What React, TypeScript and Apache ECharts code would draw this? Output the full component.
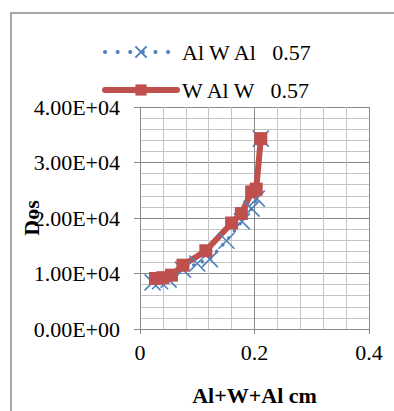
import React, { useEffect, useRef } from "react";
import * as echarts from "echarts";

const seriesNames = ["Al W Al   0.57", "W Al W   0.57"];
const alWAlX = [0.022, 0.035, 0.05, 0.075, 0.1, 0.122, 0.151, 0.178, 0.195, 0.204, 0.211];
const alWAlY = [8400, 8600, 8900, 10700, 11800, 12600, 15900, 19400, 21700, 23500, 34300];
const wAlWX = [0.027, 0.04, 0.055, 0.075, 0.115, 0.16, 0.177, 0.195, 0.203, 0.211];
const wAlWY = [9100, 9250, 9700, 11500, 14100, 19100, 20800, 24700, 25200, 34300];
const xTitle = "Al+W+Al cm";
const yTitle = "Dos";

const fmtSci = (v: number) => {
  if (v === 0) return "0.00E+00";
  const e = Math.floor(Math.log10(Math.abs(v)) + 1e-9);
  const m = v / Math.pow(10, e);
  return `${m.toFixed(2)}E${e >= 0 ? "+" : "-"}${String(Math.abs(e)).padStart(2, "0")}`;
};

export default function App() {
  const ref = useRef<HTMLDivElement>(null);
  useEffect(() => {
    if (!ref.current) return;
    const chart = echarts.init(ref.current, undefined, { renderer: "svg" });
    const font = "Liberation Serif";
    const blueDots = { color: "#4F81BD", width: 4, type: [0.1, 12.5], cap: "round" };
    const redThick = { color: "#C0504D", width: 6, cap: "round" };
    chart.setOption({
      animation: false,
      textStyle: { fontFamily: font },
      graphic: [
        {
          type: "rect",
          shape: { x: 11, y: 13, width: 420, height: 440 },
          style: { fill: "none", stroke: "#8a8a8a", lineWidth: 1.5 },
          silent: true,
        },
      ],
      legend: {
        orient: "vertical",
        left: 102,
        top: 41,
        padding: 0,
        itemWidth: 72,
        itemHeight: 14,
        itemGap: 16,
        textStyle: { fontFamily: font, fontSize: 22, color: "#000" },
        data: [
          { name: seriesNames[0], lineStyle: blueDots },
          { name: seriesNames[1], lineStyle: redThick },
        ],
      },
      grid: { left: 140, right: 25, top: 107, bottom: 82, outerBoundsMode: "none", containLabel: false },
      xAxis: {
        type: "value",
        min: 0,
        max: 0.4,
        interval: 0.2,
        name: xTitle,
        nameLocation: "middle",
        nameGap: 55,
        nameMoveOverlap: false,
        nameTextStyle: { fontFamily: font, fontSize: 22, fontWeight: "bold", color: "#000" },
        axisLine: { show: true, lineStyle: { color: "#8a8a8a", width: 1 } },
        axisTick: { show: true, length: 5, lineStyle: { color: "#8a8a8a" } },
        axisLabel: { fontFamily: font, fontSize: 22, color: "#000", margin: 12 },
        splitLine: { show: true, lineStyle: { color: "#8a8a8a", width: 1 } },
        minorTick: { show: false, splitNumber: 5 },
        minorSplitLine: { show: true, lineStyle: { color: "#c4c4c4", width: 1 } },
      },
      yAxis: {
        type: "value",
        min: 0,
        max: 40000,
        interval: 10000,
        name: yTitle,
        nameLocation: "middle",
        nameRotate: 90,
        nameGap: 98,
        nameMoveOverlap: false,
        nameTextStyle: { fontFamily: font, fontSize: 22, fontWeight: "bold", color: "#000" },
        axisLine: { show: true, lineStyle: { color: "#8a8a8a", width: 1 } },
        axisTick: { show: true, length: 6, lineStyle: { color: "#8a8a8a" } },
        axisLabel: { fontFamily: font, fontSize: 22, color: "#000", margin: 20, formatter: fmtSci },
        splitLine: { show: true, lineStyle: { color: "#8a8a8a", width: 1 } },
        minorTick: { show: false, splitNumber: 5 },
        minorSplitLine: { show: true, lineStyle: { color: "#c4c4c4", width: 1 } },
      },
      series: [
        {
          name: seriesNames[0],
          type: "line",
          data: alWAlX.map((x, i) => [x, alWAlY[i]]),
          symbol: "path://M0,0L10,10M10,0L0,10",
          symbolSize: 16,
          itemStyle: { color: "#4F81BD", borderColor: "#4F81BD", borderWidth: 1.6 },
          lineStyle: { color: "#4F81BD", width: 3.5, type: [0.1, 9], cap: "round" },
        },
        {
          name: seriesNames[1],
          type: "line",
          data: wAlWX.map((x, i) => [x, wAlWY[i]]),
          symbol: "rect",
          symbolSize: 13,
          itemStyle: { color: "#C0504D" },
          lineStyle: { color: "#C0504D", width: 6 },
        },
      ],
    });
    return () => chart.dispose();
  }, []);
  return (
    <div
      ref={ref}
      style={{ position: "absolute", left: 0, top: 0, width: 394, height: 411, background: "#fff" }}
    />
  );
}
